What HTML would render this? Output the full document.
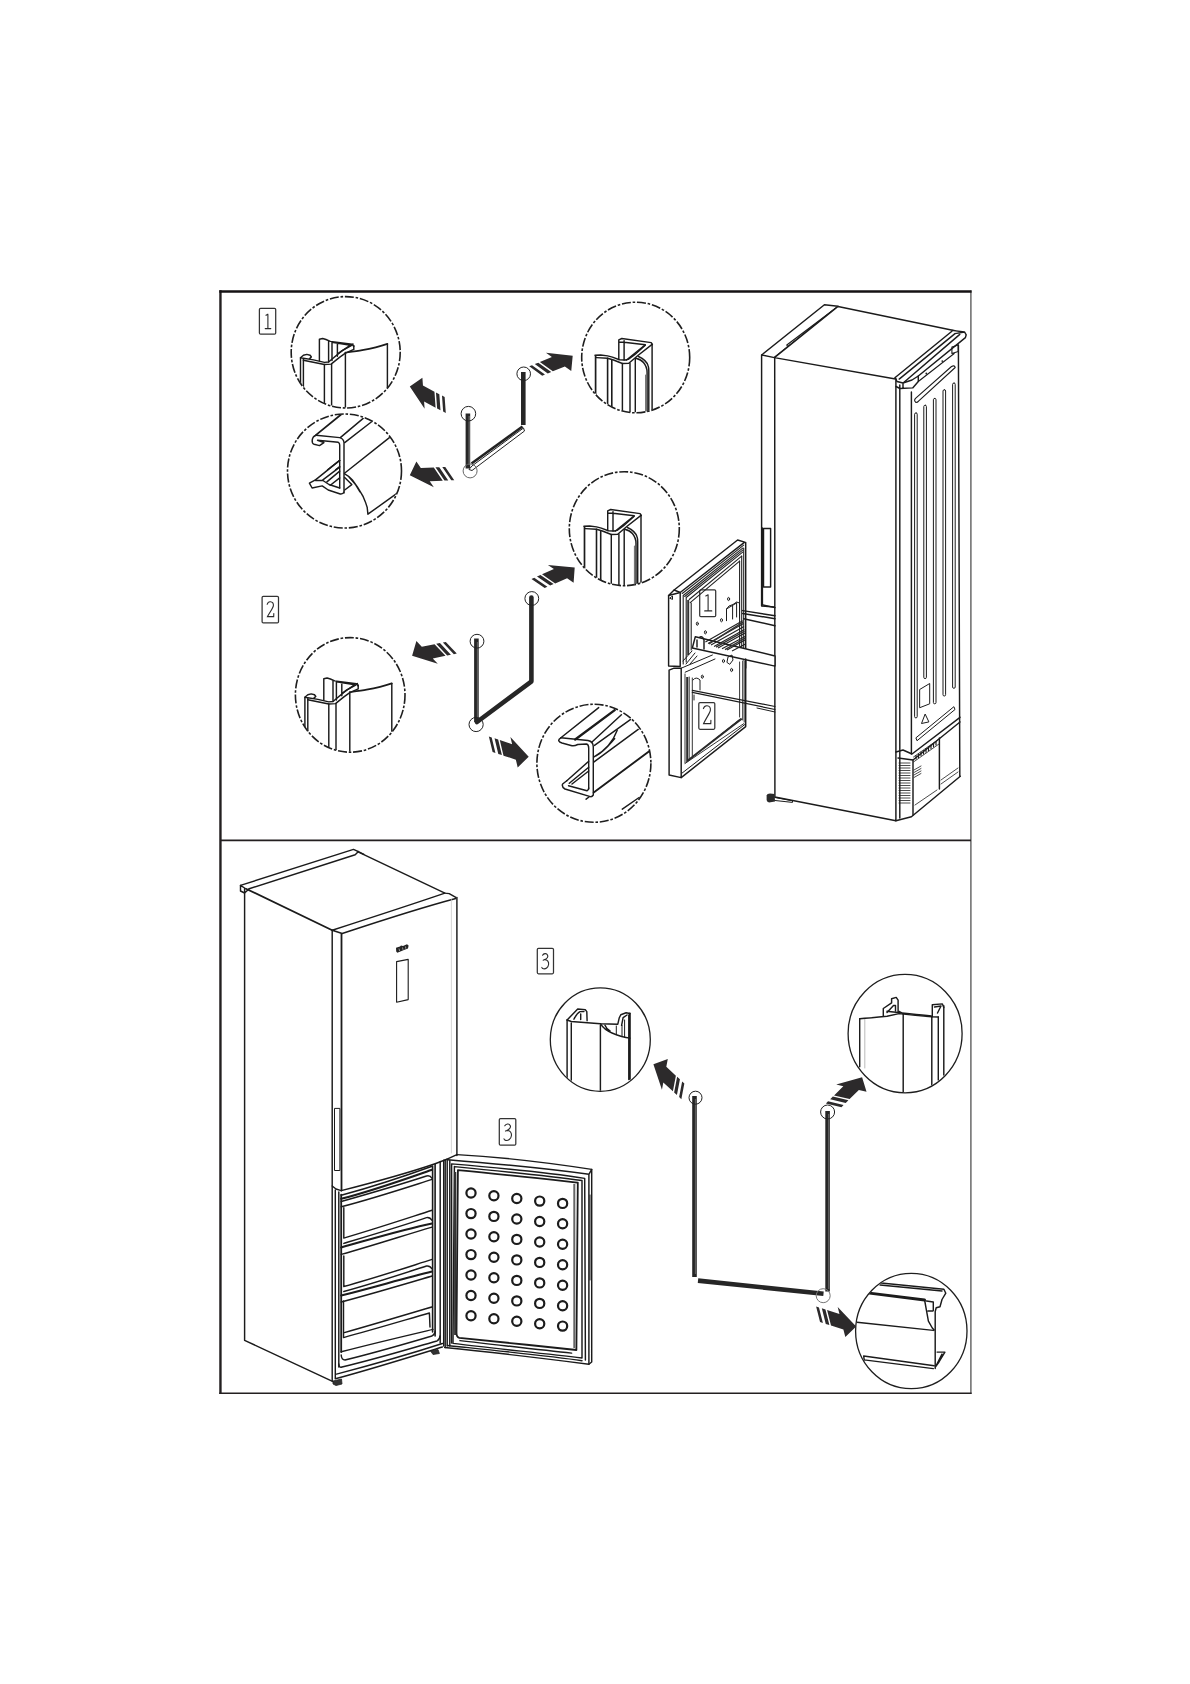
<!DOCTYPE html>
<html><head><meta charset="utf-8"><title>Door seal replacement</title>
<style>
html,body{margin:0;padding:0;background:#fff;}
body{width:1190px;height:1684px;overflow:hidden;font-family:"Liberation Sans",sans-serif;}
svg{display:block;position:absolute;left:0;top:0;}
.ln{fill:none;stroke:#1b1b1b;stroke-width:1.45;stroke-linejoin:round;stroke-linecap:round;}
.th{fill:none;stroke:#1e1e1e;stroke-width:0.8;stroke-linejoin:round;stroke-linecap:round;}
.wf{fill:#fff;stroke:#1b1b1b;stroke-width:1.45;stroke-linejoin:round;}
.dc{fill:none;stroke:#1e1e1e;stroke-width:1.6;stroke-dasharray:9 1.8 2.6 1.8;}
.sc{fill:none;stroke:#1e1e1e;stroke-width:1.3;}
.lb{fill:#fff;stroke:#333;stroke-width:1;}
.lt{font-family:"Liberation Serif",serif;font-size:21px;fill:#333;text-anchor:middle;}
.sl{fill:none;stroke:#262626;stroke-width:4.6;stroke-linecap:butt;}
.sc2{stroke:#5c5c5c;stroke-width:1.5;}
.sm{fill:none;stroke:#222;stroke-width:1;}
</style></head>
<body>
<svg width="1190" height="1684" viewBox="0 0 1190 1684">
<defs>
  <g id="arr">
    <path fill="#2c2a2b" transform="matrix(1,0,0.62,1,0,0)" d="M0,0 L-15.5,-13 L-15.5,-6.8 L-28.5,-6.8 L-28.5,6.8 L-15.5,6.8 L-15.5,13.5 Z M-30.2,-6.8 L-34,-6.8 L-34,6.8 L-30.2,6.8 Z M-37,-6.8 L-40,-6.8 L-40,6.8 L-37,6.8 Z"/>
  </g>
  <clipPath id="c1"><ellipse cx="345.7" cy="352.3" rx="54" ry="55.2"/></clipPath>
  <clipPath id="c2"><ellipse cx="344.5" cy="471" rx="56.5" ry="56.5"/></clipPath>
  <clipPath id="c3"><ellipse cx="635.7" cy="357.5" rx="53.5" ry="54.8"/></clipPath>
  <clipPath id="c4"><ellipse cx="624.3" cy="528.7" rx="54.5" ry="56.5"/></clipPath>
  <clipPath id="c5"><ellipse cx="350.2" cy="694.9" rx="54.3" ry="56.8"/></clipPath>
  <clipPath id="c6"><ellipse cx="593.9" cy="763.3" rx="56.5" ry="58.5"/></clipPath>
  <clipPath id="c7"><ellipse cx="600.3" cy="1039.6" rx="49.5" ry="51.2"/></clipPath>
  <clipPath id="c8"><ellipse cx="905.1" cy="1033.6" rx="56.5" ry="58.7"/></clipPath>
  <clipPath id="c9"><ellipse cx="911.3" cy="1331" rx="55.2" ry="57.2"/></clipPath>
</defs>

<!-- frame -->
<line x1="970.9" y1="290.5" x2="970.9" y2="1394" stroke="#5e5e5e" stroke-width="1.4"/>
<line x1="220.45" y1="290.3" x2="220.45" y2="1394" stroke="#231f20" stroke-width="2.4"/>
<line x1="219.3" y1="291.45" x2="971.6" y2="291.45" stroke="#151213" stroke-width="2.35"/>
<line x1="219.3" y1="1393.3" x2="971.6" y2="1393.3" stroke="#231f20" stroke-width="1.5"/>
<line x1="220" y1="840.3" x2="971" y2="840.3" stroke="#231f20" stroke-width="1.75"/>

<!-- labels -->
<g fill="none" stroke="#333" stroke-width="1.25">
  <rect x="259.4" y="308.4" width="16.3" height="25.7" rx="1.2"/>
  <rect x="262.1" y="596.4" width="16.4" height="26.5" rx="1.2"/>
  <rect x="537.3" y="948.4" width="16.2" height="25.4" rx="1.2"/>
  <rect x="499.3" y="1118.5" width="16.5" height="26.6" rx="1.2"/>
  <rect x="699.7" y="589.9" width="16" height="26.7" rx="1.2"/>
  <rect x="698.8" y="702.5" width="16" height="26.8" rx="1.2"/>
</g>
<g fill="none" stroke="#2a2a2a" stroke-width="1.1" stroke-linecap="round">
  <path d="M267.9,314.2 L267.9,328.5 M266,315.3 L267.9,314.2 M265.2,328.6 L270.8,328.6"/>
  <path d="M708.1,594.8 L708.1,610.8 M705.8,596 L708.1,594.8 M704.7,610.9 L711.8,610.9"/>
  <path d="M267.2,604.3 C267.8,602.3 269.3,601.6 270.4,601.7 C272.3,601.9 273.6,603.4 273.4,605.6 C273.2,608 270,611.8 267.5,616.6 L273.7,616.6 L273.8,613.6"/>
  <path d="M703.4,708.6 C704.1,706.4 705.8,705.6 707,705.7 C709.2,705.9 710.6,707.6 710.4,710.1 C710.2,712.8 706.5,717.4 703.6,723.6 L710.8,723.6 L710.9,720.3"/>
  <path d="M542.6,955.3 C543.5,953.5 546.5,952.6 547.6,955.2 C548.3,957 546.5,958.8 544.6,959.6 L543.2,960.2 M544.6,959.6 C547.5,959.5 549,962 548.6,964.5 C548.2,967.5 545.5,969.3 543.4,968.8 C542.6,968.6 542,968 541.8,967.4"/>
  <path d="M504.8,1125.8 C505.8,1123.9 509,1122.9 510.3,1125.7 C511.1,1127.6 509.1,1129.6 507,1130.4 L505.5,1131.1 M507,1130.4 C510.2,1130.3 511.8,1133 511.4,1135.7 C511,1139 508,1141 505.7,1140.4 C504.9,1140.2 504.2,1139.6 504,1138.9"/>
</g>

<!-- dashed detail circles -->
<ellipse class="dc" cx="345.7" cy="352.3" rx="54.5" ry="55.7"/>
<ellipse class="dc" cx="344.5" cy="471" rx="57" ry="57"/>
<ellipse class="dc" cx="635.7" cy="357.5" rx="54" ry="55.3"/>
<ellipse class="dc" cx="624.3" cy="528.7" rx="55" ry="57"/>
<ellipse class="dc" cx="350.2" cy="694.9" rx="54.8" ry="57.3"/>
<ellipse class="dc" cx="593.9" cy="763.3" rx="57" ry="59"/>
<!-- solid detail circles -->
<ellipse class="sc" cx="600.3" cy="1039.6" rx="50" ry="51.7"/>
<ellipse class="sc" cx="905.1" cy="1033.6" rx="57" ry="59.2"/>
<ellipse class="sc" cx="911.3" cy="1331" rx="55.7" ry="57.7"/>

<!-- arrows -->
<use href="#arr" transform="translate(409.8,386.4) rotate(207.7)"/>
<use href="#arr" transform="translate(409.8,475.2) rotate(177.7)"/>
<use href="#arr" transform="translate(572.7,355.8) rotate(-22.4)"/>
<use href="#arr" transform="translate(574.7,567.4) rotate(-23.7)"/>
<use href="#arr" transform="translate(412.1,655.7) rotate(168.5)"/>
<use href="#arr" transform="translate(528.7,756.8) rotate(18.3)"/>
<use href="#arr" transform="translate(653.4,1064.2) rotate(222.6)"/>
<use href="#arr" transform="translate(862.1,1077.2) rotate(-44.7)"/>
<use href="#arr" transform="translate(856.2,1326.4) rotate(17.6)"/>

<!-- seals -->
<g id="seal1">
  <line class="sl" x1="467.9" y1="413.5" x2="467.9" y2="468.5"/>
  <line class="sc2" x1="469.2" y1="416" x2="469.2" y2="465"/>
  <path d="M469,469.5 L471.9,466 L523.5,428 L524.5,431 L472,470.5 Z" fill="#fff" stroke="#222" stroke-width="1"/>
  <path d="M471.5,463.5 L522.5,426.5" stroke="#222" stroke-width="2.6" fill="none"/>
  <line class="sl" x1="523.3" y1="372" x2="523.3" y2="425"/>
  <circle class="sm" cx="468.4" cy="413.7" r="7.3"/>
  <circle class="sm" cx="470.1" cy="470.9" r="7" style="stroke:#666"/>
  <circle class="sm" cx="523.7" cy="373.8" r="6.8"/>
</g>
<g id="seal2">
  <line class="sl" x1="476.4" y1="638.5" x2="476.4" y2="722"/>
  <line class="sc2" x1="477.6" y1="642" x2="477.6" y2="718"/>
  <line class="sl" x1="477" y1="722" x2="530.9" y2="681.8" style="stroke-linecap:round"/>
  <line class="sl" x1="531.4" y1="597.5" x2="531.4" y2="681" style="stroke-linecap:round"/>
  <circle class="sm" cx="477" cy="641.2" r="6.9"/>
  <circle class="sm" cx="476.1" cy="724.5" r="7.1"/>
  <circle class="sm" cx="531.8" cy="598.5" r="6.9"/>
</g>
<g id="seal3">
  <line class="sl" x1="694.5" y1="1096" x2="694.5" y2="1277"/>
  <line class="sc2" x1="695.6" y1="1099" x2="695.6" y2="1274"/>
  <line class="sl" x1="698" y1="1280.6" x2="823.5" y2="1293.8"/>
  <line class="sl" x1="827.6" y1="1111" x2="827.6" y2="1291.5"/>
  <line class="sc2" x1="828.7" y1="1114" x2="828.7" y2="1289"/>
  <circle class="sm" cx="695.5" cy="1097.7" r="6.5"/>
  <circle class="sm" cx="823.2" cy="1295.7" r="7" style="stroke:#777"/>
  <circle class="sm" cx="827.6" cy="1112" r="7"/>
</g>

<!-- FRIDGE 1 (section 1/2) -->
<g id="fridge1">
  <!-- door top face -->
  <path class="wf" d="M761.6,355 L824.4,304.7 L838,306.2 L774.4,357.6 Z"/>
  <path class="ln" d="M786.8,345 L835.3,308.6 M788.3,347.8 L835.8,311.5 M786.8,345 L788.3,347.8" style="stroke-width:1.2"/>
  <!-- top face -->
  <path class="wf" d="M838,306.5 L955,330.8 L895.5,379 L774.4,357.6 Z"/>
  <!-- right top ledge -->
  <path class="wf" d="M951.9,330.4 L964.6,332 L966.2,334.8 L965.4,337.6 L918.3,376 L918.3,381.5 L912.7,387.9 L900,388 L896,386 L895.2,377.5 Z" style="stroke:none"/>
  <path class="ln" d="M951.9,330.4 L964.6,332 L966.2,334.8 L965.4,337.6 L918.3,376 M951.9,331.2 L895.2,377.5 M955,333.6 L899.2,379.1 M959.8,334.4 L904,382.3 M955,333.6 L964.6,332"/>
  <path class="ln" d="M895.2,377.5 L897,381.5 L903,383 L912,380 L918.3,376 L918.3,381.5 L912.7,387.9 L900,388.5 L896,386.5 M903,383 L903,388"/>
  <path class="ln" d="M918.3,381.5 L954.2,353.5 M951.9,347.1 L958.2,345 L958.2,351.5 L951.9,353.5 Z" style="stroke-width:1.1"/>
  <circle cx="926.3" cy="373.5" r="0.9" fill="#222"/><circle cx="942.3" cy="361.1" r="0.9" fill="#222"/>
  <!-- door narrow face -->
  <path class="ln" d="M761.6,355 L761.6,606 L774.2,607"/>
  <path class="ln" d="M763.5,528.5 L770.6,528.5 L770.6,587 L763.5,587 Z"/>
  <!-- front face -->
  <path class="ln" d="M774.7,357.6 L774.9,797 L895.9,820.7 L895.9,379"/>
  <!-- side face -->
  <path class="ln" d="M899.8,385 L899.8,818"/>
  <path class="ln" d="M911.4,392 L911.4,754"/>
  <path class="ln" d="M958.4,345 L959.8,776.3"/>
  <path class="ln" d="M895.9,820.7 L911.4,816.8 L960.3,776.3"/>
  <!-- ribs -->
  <g class="ln" style="stroke-width:1">
    <rect x="914.6" y="412.9" width="2.6" height="305" rx="1.3"/>
    <rect x="923.8" y="405.2" width="2.6" height="273.4" rx="1.3"/>
    <rect x="933.4" y="398.4" width="2.6" height="305.4" rx="1.3"/>
    <rect x="943" y="389.7" width="2.6" height="306.3" rx="1.3"/>
    <rect x="952.6" y="383" width="2.6" height="305.3" rx="1.3"/>
  </g>
  <path class="ln" d="M916,402.5 Q913.5,400.5 915.5,398.3 L951.5,366.5 Q954.5,364.8 955.2,367.5 L918.8,400.8 Q917.5,402.5 916,402.5 Z" style="stroke-width:1.1"/>
  <path class="ln" d="M920,689.3 L929.7,683.5 L929.7,703.8 L920,707.6 Z" style="stroke-width:1"/>
  <path class="ln" d="M925,714.4 L921.5,723.5 L928.5,722 Z" style="stroke-width:1"/>
  <path class="ln" d="M916.2,737.6 L953.9,706.7 L955,709.5 L917.3,740.5 Z" style="stroke-width:1"/>
  <!-- base -->
  <path class="ln" d="M896,752 L903,750 L912,754 L960,717.3"/>
  <path class="ln" d="M898,758 L913,760 L960,722"/>
  <path class="ln" d="M913,760 L913,815"/>
  <path class="ln" d="M939.4,738 L939.4,789"/>
  <g class="th">
    <path d="M899,763h11M899,765.5h11M899,768h11M899,770.5h11M899,773h11M899,775.5h11M899,778h11M899,780.5h11M899,783h11M899,785.5h11M899,788h11M899,790.5h11M899,793h11M899,795.5h11M899,798h11M899,800.5h11M899,803h11"/>
    <path d="M913.5,757 L939,739 M913.5,762 L939,744 M914,770 L921,766 M914,772.5 L921,768.5 M914,775 L921,771 M914,777.5 L921,773.5"/>
    <path d="M916,759 l0,-3.5 M918.5,757.5 l0,-3.5 M921,755.6 l0,-3.5 M923.5,754 l0,-3.5 M926,752.2 l0,-3.5 M928.5,750.4 l0,-3.5 M931,748.6 l0,-3.5 M933.5,746.8 l0,-3.5 M936,745 l0,-3.5" style="stroke-width:1.2"/>
    <path d="M915,805 L937,790 M941,780 L958,768 M941,784 L958,772"/>
  </g>
  <!-- foot -->
  <path d="M766.6,795.5 Q767,793.6 770,793.6 L774.6,794 L775,801.5 L769,802.4 Q766.6,802 766.6,800 Z" fill="#2a2a2a"/><path class="ln" d="M775,797.5 L792.5,800.8 L792.5,802.4 L775,800.5" style="stroke-width:1"/>
</g>

<!-- REMOVED DOORS (section 1/2) -->
<g id="doors1">
  <!-- door 1 -->
  <path class="wf" d="M668.6,595.5 L674.1,590 L737.6,540 L744.7,542.1 L680.2,592.5 Z"/>
  <path class="ln" d="M668.6,595.5 L668.6,666 L680.2,666.5 L680.2,592.5 M674.1,590 L680.2,592.5"/>
  <path class="ln" d="M745.7,542.5 L745.7,668"/>
  <path class="ln" d="M670,598 l2.5,-2 l0,3 z" style="stroke-width:1"/>
  <g class="th" style="stroke-width:1.1;stroke:#222">
    <path d="M682.2,593.5 L743.7,545.1 M683.2,595.5 L742.7,548.1 M686.2,597.5 L742.7,552.1 M689.2,599.5 L741.7,556.2 M690.2,602.6 L739.6,561.2 M684.7,596.5 L742.7,550.1"/>
    <path d="M683.2,596 L683.2,664 M686.2,598 L686.2,662 M691.2,603 L691.2,650 M739.6,561 L739.6,646 M741.7,556 L741.7,650 M743.7,548 L743.7,660"/>
  </g>
  <path d="M688.2,600 L688.2,655" stroke="#333" stroke-width="2"/>
  <!-- rails -->
  <path class="ln" d="M742.7,610.6 L775,615.7 M742.7,613.5 L775,618.7 M743.7,618.7 L775,625.8"/>
  <path class="wf" d="M695.3,636.8 L775,656 L775,666.1 L692.3,648 Z"/>
  <path class="ln" d="M697,640 L697,647 M700,637 Q703,636 704,640 L704,649"/>
  <g fill="none" stroke="#222" stroke-width="1.1">
    <path d="M705.4,641.9 L742.7,620.7 M708,643.5 L743.5,623.5 M711,645 L744,626.5 M714,646.5 L744.5,629.5 M718,648 L745,633 M722,648.8 L745,636.5 M727,650 L745,640 M732,651 L745.5,644"/>
  </g>
  <path d="M709,643.8 L742.9,622.2 M716,647.2 L744.6,631.2 M725,649.6 L745.2,638.2" stroke="#333" stroke-width="1.4" fill="none"/>
  <path class="ln" d="M726.5,620.7 L726.5,609 L729,606 L733,604.5 L736.6,602 L739.5,603 L739.5,618 M732.6,606 L732.6,619 M736.6,603 L736.6,617 M726.5,609 L736.6,603" style="stroke-width:1"/>
  <path class="th" d="M683,661 L692,651 M686,664 L695,653 M690,664 L697,656" style="stroke-width:1"/>
  <g class="th" style="stroke-width:1"><ellipse cx="728.6" cy="599" rx="1" ry="1.6"/><ellipse cx="721.5" cy="620.2" rx="1" ry="1.6"/><ellipse cx="697.3" cy="623.7" rx="1" ry="1.6"/><ellipse cx="705.4" cy="632.3" rx="1" ry="1.6"/><ellipse cx="723.5" cy="661" rx="1" ry="1.6"/><ellipse cx="731.6" cy="670" rx="1" ry="1.6"/><ellipse cx="702.3" cy="676.7" rx="1" ry="1.6"/></g>
  <path class="th" d="M727,662 L728,657 L732,655 L733,660 L730,664 Z" style="stroke-width:1"/>
  <!-- door 2 -->
  <path class="ln" d="M669.1,670.2 L674.1,668.2 L681.2,668.2 M669.1,670.2 L669.1,775 L681.2,777.6 L681.2,668.2"/>
  <path class="ln" d="M681.2,777.6 L745.7,726.6 L745.7,659"/>
  <path class="ln" d="M682.2,773 L744.7,724.6" style="stroke-width:1"/>
  <path class="ln" d="M681.2,668.2 L712.4,655 M685.2,672.2 L715,659" style="stroke-width:1"/>
  <g class="th" style="stroke-width:0.9">
    <path d="M739.6,662 L739.6,717 M742.7,661 L742.7,720 M744.2,661 L744.2,722"/>
    <path d="M689.2,677 L689.2,759 M692.3,678 L692.3,756 M685,674 L685,763"/>
    <path d="M690.2,758.9 L739.6,719.5 M685,763.5 L744,723.5"/>
  </g>
  <path d="M687.2,677 L687.2,761 L741.7,718.6" stroke="#2a2a2a" stroke-width="2" fill="none"/>
  <path class="ln" d="M692.3,690.3 L775,706.5 M692.3,692.4 L775,709.5" style="stroke-width:1.2"/>
  <path class="th" d="M693,680 Q696,676 700,680 L700,690 M694,695 L694,700 M757,708 L775,712" style="stroke-width:1"/>
  <!-- fridge door edge -->
  <path class="ln" d="M761.8,604.6 L775,607.6"/>
  <path class="ln" d="M762.4,528 L762.4,605"/>
<!-- DETAIL: section1 top-left profile -->
<g id="prof1" class="ln" clip-path="url(#c1)">
  <path d="M300.5,357.8 L300.5,420 M303.4,359 L303.4,420 M324.4,364.5 L324.4,420 M331.6,364.1 L331.6,420 M345.4,353 L345.4,420 M387.4,343.9 L387.4,420" />
  <path d="M300.5,357.8 L303.4,355.3 L306.8,354.4 L310.1,355.3 L311.4,357 L309.5,358.6 M303.4,358.2 L313.5,359.9 L324.4,362.4 L328.6,362 L342.1,350.6 L351.3,345.6 L353,343.9 M303.4,360.3 L324.4,364.5 L331.1,364.1 L339.5,357.4 L345.4,353.2 L353.8,349.4 L353.8,345.5 M300.5,357.8 L303.4,358.2"/>
  <path d="M319.4,360.7 L319.4,339.3 L322.7,338.5 L326,339.5 L330.3,341.4 L352.1,344.3 L353.8,346.5 M328.6,340.8 L328.6,362 M332,342 L332,360.5 M337.4,342.6 L337.4,356.3 M332,342.2 L350.5,345.2 L338.7,353.2"/>
  <path d="M345.4,352.7 C352,351.8 358,351 362.2,350.2 C372,348.5 380,346.5 387.4,343.9" stroke-width="1.7"/>
</g>
<!-- DETAIL: section1 lower-left profile (C channel) -->
<g id="prof2" class="ln" clip-path="url(#c2)">
  <path d="M316.1,434.9 L341.7,414" stroke-width="1.8"/>
  <path d="M340.3,437.6 L363.2,418.4 M344.7,442.6 L371.6,421.8 M344.5,473.2 L389.4,437.6"/>
  <path d="M316.1,435.2 L339.7,437.6 Q343.5,438.5 344,442.5 L344,493"/>
  <path d="M316.1,435.2 C311,437 311.5,443.5 314.1,444.3 L319.5,445.6 L323.9,442.6 L317.5,440.3 L338.3,442.3 Q339.7,443 339.7,445 L339.7,488"/>
  <path d="M327.6,469.8 L339.7,460.4 M335.6,469.8 L339.7,466.5"/>
  <path d="M315.5,479.9 L339.7,460.4 M322.9,479.9 L339.7,467.1 M326.9,481.9 L339.7,471.1 M330.3,485.3 L339.7,477.9"/>
  <path d="M315.5,479.9 L309.4,483.2 L312.1,488 L322.2,485.9 L328.2,490 L340.3,494 Q343,494.3 344,492 M315.5,480.5 L322.9,480.5 L329,484.5 L339.7,488"/>
  <path d="M344.7,473.8 Q349,476 352.4,479.9 Q358,487 363.2,496.7 Q366,503 367.2,507.4 L367.9,514.2 L397.6,492.9 M344.7,477.5 L351.8,484.6 L344.7,490 M349,477 Q356,484 360,492"/>
</g>
<!-- DETAIL: section1 right profile -->
<g id="prof3" class="ln" clip-path="url(#c3)">
  <path d="M595.6,355.9 L595.6,420" stroke-width="1.7"/>
  <path d="M607.6,358.2 L607.6,420 M611.8,360 L611.8,420" stroke-width="1.6"/>
  <path d="M622.4,363.5 L622.4,420 M630,363.2 L630,420 M635.3,358.5 L635.3,420 M652.1,344.4 L652.1,420"/>
  <path d="M595,355.3 L600.6,355 L607.6,355.9 L612.4,357.1 L619.4,359.7 L625.3,360 L628.2,359.4 L634.7,354.7 L645.3,345.3 M596.5,357.6 L607.6,358.2 L613.5,360 L622.4,363.5 L628.8,363.2 L634.7,358.2 L638.2,355.3 L652.1,344.4"/>
  <path d="M618.8,359.4 L618.8,339.8 L621.8,338.5 L651.2,342.6 L652.4,344.4 M624.1,340.6 L624.1,360 M618.8,342 L624.1,342.3 L645.3,344.7 L626.5,360"/>
  <path d="M635.9,358.2 C639,359 641.5,360 643.5,362.5 C646,365.5 647.1,369 647.1,372.4 L647.1,420 M638.5,356.5 C643,358.5 647,362 648.2,366 C649,368 648.8,371 648.8,373 L648.8,420"/>
  <path d="M645.6,375 L645.6,420" stroke="#777" stroke-width="1.2"/>
</g>
<!-- DETAIL: section2 upper-right profile -->
<g id="prof4" class="ln" clip-path="url(#c4)">
  <g transform="translate(-11.1,171)">
  <path d="M595.6,355.9 L595.6,425" stroke-width="1.7"/>
  <path d="M607.6,358.2 L607.6,425 M611.8,360 L611.8,425" stroke-width="1.6"/>
  <path d="M622.4,363.5 L622.4,425 M630,363.2 L630,425 M635.3,358.5 L635.3,425 M652.1,344.4 L652.1,425"/>
  <path d="M595,355.3 L600.6,355 L607.6,355.9 L612.4,357.1 L619.4,359.7 L625.3,360 L628.2,359.4 L634.7,354.7 L645.3,345.3 M596.5,357.6 L607.6,358.2 L613.5,360 L622.4,363.5 L628.8,363.2 L634.7,358.2 L638.2,355.3 L652.1,344.4"/>
  <path d="M618.8,359.4 L618.8,339.8 L621.8,338.5 L651.2,342.6 L652.4,344.4 M624.1,340.6 L624.1,360 M618.8,342 L624.1,342.3 L645.3,344.7 L626.5,360"/>
  <path d="M635.9,358.2 C639,359 641.5,360 643.5,362.5 C646,365.5 647.1,369 647.1,372.4 L647.1,425 M638.5,356.5 C643,358.5 647,362 648.2,366 C649,368 648.8,371 648.8,373 L648.8,425"/>
  <path d="M645.6,375 L645.6,425" stroke="#777" stroke-width="1.2"/>
  </g>
</g>
<!-- DETAIL: section2 left profile -->
<g id="prof5" class="ln" clip-path="url(#c5)">
  <g transform="translate(4.4,339.5)">
  <path d="M300.5,357.8 L300.5,420 M303.4,359 L303.4,420 M324.4,364.5 L324.4,420 M331.6,364.1 L331.6,420 M345.4,353 L345.4,420 M387.4,343.9 L387.4,420" />
  <path d="M300.5,357.8 L303.4,355.3 L306.8,354.4 L310.1,355.3 L311.4,357 L309.5,358.6 M303.4,358.2 L313.5,359.9 L324.4,362.4 L328.6,362 L342.1,350.6 L351.3,345.6 L353,343.9 M303.4,360.3 L324.4,364.5 L331.1,364.1 L339.5,357.4 L345.4,353.2 L353.8,349.4 L353.8,345.5 M300.5,357.8 L303.4,358.2"/>
  <path d="M319.4,360.7 L319.4,339.3 L322.7,338.5 L326,339.5 L330.3,341.4 L352.1,344.3 L353.8,346.5 M328.6,340.8 L328.6,362 M332,342 L332,360.5 M337.4,342.6 L337.4,356.3 M332,342.2 L350.5,345.2 L338.7,353.2"/>
  <path d="M345.4,352.7 C352,351.8 358,351 362.2,350.2 C372,348.5 380,346.5 387.4,343.9" stroke-width="1.7"/>
  </g>
</g>
<!-- DETAIL: section2 bottom profile (Z channel) -->
<g id="prof6" class="ln" clip-path="url(#c6)">
  <path d="M560.9,737.8 L598.7,707.6"/>
  <path d="M575.2,739.5 L614.7,710.1" stroke-width="2.4"/>
  <path d="M592,742 L621.4,714.7 M594.5,745.4 L630.7,719.3 M593.7,762.2 L638.2,729.4 M622.3,809.2 L639.1,797.5"/>
  <path d="M560.9,737.8 C557,740 559,742 562,743 L571,745.5 Q574,746.5 577.7,744.5 L586.5,744 Q588.7,744.5 588.7,748 L588.7,789"/>
  <path d="M560.9,737.8 L588,740.5 Q593.3,741.5 593.3,747 L593.3,795 Q592,797 590.3,796.6 L565,789 Q561.5,787 562.6,784 L566.8,780.7"/>
  <path d="M566.8,780.7 L588.7,761.3 M569.3,783.2 L588.7,767.2 M572,784 L588.7,771"/>
  <path d="M568.5,785.7 L587,790.8 Q588.7,790 588.7,788"/>
  <path d="M593.7,757.1 C603,752 612,745 617.2,730.3 M596,756 C606,750 613,740 614.7,738.7"/>
  <path d="M586.1,799.2 L589,797"/>
  <path d="M593.7,792.4 L649.2,751.3" style="stroke-width:1.9"/>
</g>

<!-- FRIDGE 2 (section 3) -->
<g id="fridge2">
  <!-- top surface -->
  <path class="wf" d="M245.9,888.7 L357.5,851.6 L444.9,893.1 L332.2,930.2 Z" style="stroke:none"/>
  <path class="ln" d="M240.5,885.4 L353.5,849.4 L358.4,851.6 L363.9,854.3 M249.2,888.7 L355.2,854.8 L358.4,851.6"/>
  <path class="ln" d="M240.5,885.4 L240.5,891 L244.6,893 L249.2,888.7 M240.5,885.4 L244.6,888 L244.6,893"/>
  <path class="ln" d="M357.5,851.6 L444.9,893.1 L449.2,893.6 L455.8,897.4"/>
  <path class="ln" d="M245.9,888.7 L332.2,930.2" style="stroke-width:1.8"/>
  <path class="ln" d="M332.2,930.2 C370,918 410,905 444.9,893.1 M342.2,933.5 C380,921 420,908 455.8,898.5 M332.2,930.2 L342.2,933.5"/>
  <!-- verticals -->
  <path class="ln" d="M244.6,893 L244.6,1340.3 L333.6,1381.9"/>
  <path class="ln" d="M332.2,930.2 L332.2,1381"/>
  <path class="ln" d="M341.5,934 L341.5,1190.6" style="stroke-width:1.8"/>
  <path class="ln" d="M456.9,897.5 L456.9,1155.5"/>
  <path class="th" d="M451.4,899.6 L451.4,1153" style="stroke:#ccc"/>
  <!-- logo + display -->
  <path d="M396,947.8 L400,946.5 L401,945.5 L403,946 L407,944.3 L408.6,945.5 L408,948.6 L404,950 L401,951.3 L397.3,952.8 L396.2,951.5 Z" fill="#222"/><path d="M399,948.5 L399.6,951 M402.5,947.5 L403,949.8 M405.5,946.5 L405.8,948.7" stroke="#fff" stroke-width="0.5"/>
  <path class="ln" d="M396.6,961.6 L408.2,959.4 L408.2,999.6 L396.6,1002.2 Z" style="stroke-width:1.1"/>
  <!-- handle -->
  <path class="ln" d="M334.9,1108.4 L339.9,1108.4 L339.9,1170.5 L334.9,1170.5 Z" style="stroke-width:1"/>
  <!-- fridge door bottom -->
  <path class="ln" d="M341.2,1190.6 C375,1182 405,1174 435.1,1163.7 L448.2,1158.7 L456.9,1154.6"/>
  <path class="ln" d="M332.2,1186 L336,1189 L341.2,1190.6"/>
  <!-- freezer compartment -->
  <path class="ln" d="M335.3,1190 L335.3,1378 M338.8,1192 L338.8,1367"/>
  <path class="ln" d="M341.2,1194.7 L341.2,1352" style="stroke-width:1.8"/>
  <path class="ln" d="M432.6,1166 L432.6,1332 M435.1,1163.7 L435.1,1336" style="stroke-width:1.6"/>
  <path class="ln" d="M440.2,1161.5 L440.2,1343 M443.7,1160.2 L443.7,1346"/>
  <!-- drawer 1 -->
  <path class="ln" d="M341.2,1195.3 C375,1186 405,1176 432.1,1166.2 M341.2,1201.5 C375,1192 405,1183 426.5,1176 Q430,1175 432.1,1178.5 M341.2,1206.8 C375,1198 405,1188 432.1,1179.4"/>
  <path class="ln" style="stroke-width:2.1" d="M341.2,1198.8 C375,1190 405,1179 432.1,1169.7"/>
  <!-- drawer 2 -->
  <path class="ln" d="M343.8,1238.1 C375,1229 405,1219 432.1,1210.3 M343.8,1243.4 C375,1234 405,1225 426.5,1217.6 Q430,1217 432.1,1220.5 M341.2,1254.4 C375,1245 405,1235 432.1,1227.1 M343.8,1207.6 L343.8,1238.1"/>
  <path class="ln" style="stroke-width:2.1" d="M341.2,1247.4 C375,1238 405,1229 432.1,1223.5"/>
  <!-- drawer 3 -->
  <path class="ln" d="M343.8,1286.5 C375,1278 405,1268 432.1,1259.4 M343.8,1291.5 C375,1283 405,1273 426.5,1266 Q430,1265.5 432.1,1269 M341.2,1302 C375,1293 405,1284 432.1,1276 M343.8,1256 L343.8,1286.5"/>
  <path class="ln" style="stroke-width:2.1" d="M341.2,1295.5 C375,1287 405,1278 432.1,1271.5"/>
  <!-- basket -->
  <path class="ln" d="M343.5,1332.9 C375,1324 405,1315 431.8,1307 M343.5,1337.6 C375,1329 405,1320 429.4,1313 L430,1327 M343.5,1301 L343.5,1337.6"/>
  <path class="ln" d="M341.2,1351.8 C375,1343 405,1336 433,1329.4 M341.2,1355 Q341.5,1360 345,1360 C378,1352 408,1343 432,1336 Q435.3,1334 435.3,1331"/>
  <path class="ln" d="M338.8,1364 Q339,1368 342,1367 C380,1358 412,1348 437,1341 Q440,1339 440,1336"/>
  <path class="ln" d="M336.5,1374.1 C375,1364 410,1354 442.4,1343.5 M335.3,1378.8 C375,1368 410,1357 442.4,1347"/>
  <!-- feet -->
  <path d="M333,1381 L341.5,1379 L342,1384 L336,1385.5 L333,1384 Z M430.6,1351 L438,1349.5 L439.4,1353.5 L433,1354.5 Z" fill="#333" stroke="#222" stroke-width="0.8"/>
</g>

<!-- OPEN FREEZER DOOR -->
<g id="fdoor">
  <path class="ln" d="M445.2,1159.6 L445.2,1347.5 M447.2,1159 L447.2,1346 M449.8,1160.5 L449.8,1346"/>
  <path class="ln" d="M456.9,1154.6 C500,1157 550,1163 591.7,1169.4 L591.7,1362 L588.9,1364.2 C540,1358 490,1352 444.7,1347.5"/>
  <path class="ln" d="M447.7,1159.7 C500,1164 550,1169 588.9,1174.3 L591.7,1169.4 M588.9,1174.3 L588.9,1364.2"/>
  <path class="ln" d="M451.6,1163.9 C500,1168 550,1173 584.7,1178.4 L585.4,1360 M451.6,1163.9 L451.6,1343"/>
  <path class="ln" d="M454.4,1166.6 C500,1171 550,1176 582,1180.5 L582,1358 C540,1353 490,1348 453,1343.4 L454.4,1166.6"/>
  <path class="ln" d="M457.9,1170.1 C500,1174 545,1179 577.8,1182.6 L576.4,1350 C540,1346 490,1341 459.3,1337.8 Q456.5,1337 456.5,1333 L457.9,1170.1" style="stroke-width:1.8"/>
  <path class="ln" d="M460,1340.6 C500,1345 540,1350 571.6,1353.1"/>
  <path d="M455.2,1172 L455.2,1335" stroke="#333" stroke-width="2.2"/>
  <path d="M574.3,1184 L574.3,1348" stroke="#666" stroke-width="2"/>
  <path class="ln" d="M447.5,1345.5 C500,1351 550,1356 582,1360.7"/>
  <!-- bumps grid -->
  <g fill="none" stroke="#1b1b1b" stroke-width="2.2">
    <circle cx="471" cy="1193" r="4.6"/><circle cx="471" cy="1213.6" r="4.6"/><circle cx="471" cy="1234" r="4.6"/><circle cx="471" cy="1254.6" r="4.6"/><circle cx="471" cy="1275" r="4.6"/><circle cx="471" cy="1295.5" r="4.6"/><circle cx="471" cy="1315.7" r="4.6"/>
    <circle cx="493.9" cy="1195.8" r="4.6"/><circle cx="493.9" cy="1216.4" r="4.6"/><circle cx="493.9" cy="1236.8" r="4.6"/><circle cx="493.9" cy="1257.3" r="4.6"/><circle cx="493.9" cy="1277.8" r="4.6"/><circle cx="493.9" cy="1298.3" r="4.6"/><circle cx="493.9" cy="1318.7" r="4.6"/>
    <circle cx="516.8" cy="1198.5" r="4.6"/><circle cx="516.8" cy="1219" r="4.6"/><circle cx="516.8" cy="1239.4" r="4.6"/><circle cx="516.8" cy="1259.9" r="4.6"/><circle cx="516.8" cy="1280.4" r="4.6"/><circle cx="516.8" cy="1300.9" r="4.6"/><circle cx="516.8" cy="1321.3" r="4.6"/>
    <circle cx="539.7" cy="1201.1" r="4.6"/><circle cx="539.7" cy="1221.5" r="4.6"/><circle cx="539.7" cy="1242" r="4.6"/><circle cx="539.7" cy="1262.4" r="4.6"/><circle cx="539.7" cy="1282.9" r="4.6"/><circle cx="539.7" cy="1303.4" r="4.6"/><circle cx="539.7" cy="1323.8" r="4.6"/>
    <circle cx="562.6" cy="1203.4" r="4.6"/><circle cx="562.6" cy="1223.8" r="4.6"/><circle cx="562.6" cy="1244.3" r="4.6"/><circle cx="562.6" cy="1264.7" r="4.6"/><circle cx="562.6" cy="1285.2" r="4.6"/><circle cx="562.6" cy="1305.7" r="4.6"/><circle cx="562.6" cy="1326.1" r="4.6"/>
  </g>
  <path class="ln" d="M590,1195 L590,1280" style="stroke-width:1"/>
</g>

<!-- DETAIL: section3 left profile -->
<g id="prof7" class="ln" clip-path="url(#c7)">
  <path d="M567.1,1020 L567.1,1077.5 M571.3,1023 L571.3,1080 M600.4,1025.3 L600.4,1091 M628.8,1015 L628.8,1079.5"/>
  <path d="M629.9,1013.5 L629.9,1079" stroke-width="1.8"/>
  <path d="M567.1,1020 L577.7,1009 L585.3,1009.8 L586.8,1011.6 L587.1,1020.7 M573.9,1019.2 Q577,1013 580,1011.6 L584,1011.6 M580.7,1013.9 L580.7,1019.5"/>
  <path d="M567.1,1020 L571.3,1021.5 L600.4,1023.7 L617.8,1024.2 L619.3,1017.7 L620.8,1014.7 L626.1,1012.8 L629.9,1013.5"/>
  <path d="M621.6,1025.3 L623.1,1017.7 L627,1015 M600.4,1023.7 C603,1028 607,1031 612,1033 C618,1035.5 624,1037.5 629.9,1038.1 M605,1025.3 C606,1028 608,1030 610,1031"/>
  <path d="M616.3,1026 L616.3,1034.3 M622,1025.5 L622,1036.5 M624.6,1020 L624.6,1037.3" stroke-width="1"/>
</g>
<!-- DETAIL: section3 upper-right profile -->
<g id="prof8" class="ln" clip-path="url(#c8)">
  <path d="M859.7,1018.7 L859.7,1066.7 M903.2,1013.6 L903.2,1091.7 M931.8,1016.8 L931.8,1085.2 M938.3,1017 L938.3,1080.1 M943.8,1005.7 L943.8,1075"/>
  <path d="M864.8,1019 L864.8,1068" stroke="#aaa" stroke-width="0.8"/>
  <path d="M859.7,1018.7 C870,1018 880,1017 887,1016.3 L899,1013.6 C910,1015 920,1016 931.8,1016.8 L938.3,1017"/>
  <path d="M887,1011.3 C900,1013 915,1014 931.3,1015.9 M899,1011.3 L903.2,1013.6"/>
  <path d="M932.3,1016.8 L932.3,1004.8 L942.4,1003.9 L943.8,1007.6 M934.5,1007 L941,1006 L937.5,1013"/>
  <path d="M883.3,1015.9 L883.3,1008.5 L891.6,1002.9 L891.6,998.8 L896.2,997.4 L898.1,1000.2 L898.1,1012.2 M887,1012.5 L893.5,1005.5 L895.5,1005.5 L895.5,1011"/>
</g>
<!-- DETAIL: section3 lower-right profile -->
<g id="prof9" class="ln" clip-path="url(#c9)">
  <path d="M881.1,1283 L943.9,1289.3 L945.8,1293.2 L942,1299.5 L940,1306.7 L936.2,1307.7 L935.2,1311.6 L935.2,1368.6 M880.1,1285 L942,1291"/>
  <path d="M869.5,1293.2 L924.6,1300" stroke-width="2.8"/>
  <path d="M924.6,1300 L926.5,1310.6 L928.4,1321.2 L932.3,1328 L934.2,1330 M926.5,1301 L933.3,1302 L933.3,1310.6 M928,1311 L933,1311"/>
  <path d="M856.9,1322.2 L933.3,1330.4"/>
  <path d="M863.7,1356 L934.2,1365.7 M864.2,1359.9 L933.3,1368.6 M863.7,1356 L864.2,1359.9"/>
  <path d="M935.7,1366.6 L942,1354.1 M937.1,1352.1 L944.9,1352.1 L939,1362 L935.7,1366.6"/>
</g>

</svg>
</body></html>
